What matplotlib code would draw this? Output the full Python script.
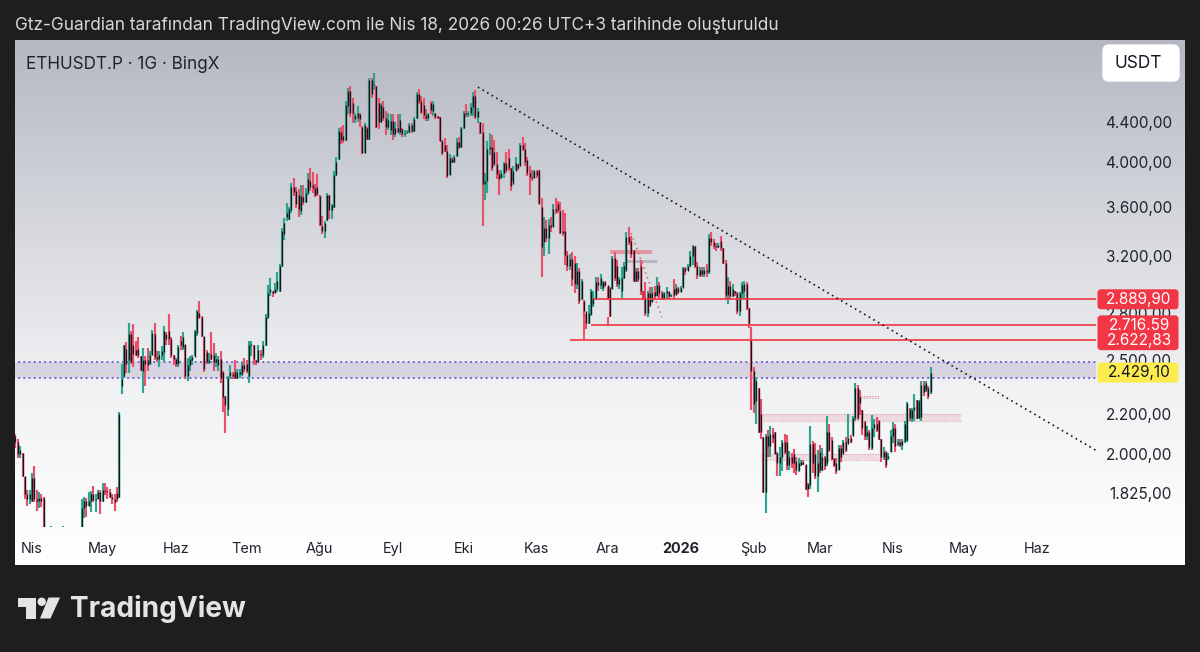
from __future__ import annotations

import matplotlib
matplotlib.use("Agg")
import matplotlib.dates as mdates
import matplotlib.pyplot as plt
import numpy as np
import pandas as pd
from matplotlib.patches import Circle, FancyBboxPatch, Polygon
from matplotlib.ticker import NullLocator

plt.rcParams["font.family"] = ["Inter", "DejaVu Sans"]

# daily candles, one list per month: open, high, low, close
mar25 = [
    (2090, 2100, 2030, 2060), (2060, 2075, 1985, 2000), (2000, 2040, 1985, 2020), (2005, 2005, 1895, 1900),
    (1900, 1895, 1800, 1820), (1820, 1840, 1770, 1800), (1800, 1840, 1780, 1820),
]
apr25 = [
    (1790, 1915, 1785, 1890), (1890, 1945, 1785, 1800), (1800, 1840, 1750, 1790), (1790, 1830, 1760, 1805),
    (1805, 1820, 1765, 1790), (1805, 1810, 1540, 1580), (1580, 1640, 1420, 1550), (1550, 1620, 1450, 1475),
    (1480, 1690, 1390, 1665), (1665, 1670, 1470, 1520), (1520, 1600, 1505, 1565), (1565, 1660, 1550, 1640),
    (1640, 1660, 1590, 1600), (1600, 1690, 1570, 1620), (1620, 1670, 1580, 1590), (1590, 1620, 1540, 1580),
    (1580, 1610, 1570, 1590), (1590, 1600, 1570, 1590), (1590, 1600, 1570, 1580), (1580, 1660, 1540, 1610),
    (1610, 1670, 1560, 1580), (1580, 1800, 1570, 1760), (1760, 1810, 1720, 1790), (1790, 1805, 1725, 1770),
    (1770, 1830, 1770, 1790), (1790, 1835, 1745, 1820), (1820, 1855, 1785, 1795), (1795, 1820, 1745, 1800),
    (1800, 1840, 1800, 1830), (1830, 1840, 1735, 1790),
]
may25 = [
    (1790, 1870, 1785, 1840), (1840, 1870, 1815, 1835), (1835, 1850, 1800, 1830), (1830, 1845, 1805, 1810),
    (1810, 1820, 1780, 1800), (1800, 1820, 1750, 1785), (1825, 1850, 1785, 1800), (1810, 2210, 1805, 2200),
    (2350, 2480, 2310, 2390), (2410, 2595, 2400, 2590), (2570, 2610, 2425, 2480), (2500, 2735, 2425, 2660),
    (2660, 2680, 2480, 2490), (2590, 2725, 2460, 2540), (2560, 2620, 2525, 2535), (2570, 2640, 2515, 2530),
    (2525, 2525, 2440, 2445), (2440, 2575, 2315, 2500), (2500, 2525, 2350, 2480), (2500, 2575, 2440, 2470),
    (2480, 2555, 2480, 2530), (2530, 2685, 2535, 2670), (2660, 2730, 2500, 2520), (2520, 2555, 2490, 2510),
    (2510, 2555, 2460, 2530), (2530, 2585, 2500, 2555), (2550, 2710, 2490, 2680), (2660, 2675, 2595, 2630),
    (2680, 2790, 2595, 2630), (2630, 2640, 2515, 2530), (2530, 2535, 2470, 2510),
]
jun25 = [
    (2510, 2515, 2460, 2480), (2480, 2595, 2460, 2580), (2620, 2650, 2565, 2590), (2580, 2675, 2565, 2640),
    (2600, 2595, 2390, 2410), (2410, 2515, 2380, 2470), (2470, 2525, 2440, 2510), (2500, 2535, 2470, 2520),
    (2520, 2685, 2525, 2680), (2670, 2820, 2650, 2810), (2800, 2880, 2755, 2770), (2770, 2780, 2640, 2650),
    (2650, 2640, 2430, 2450), (2550, 2565, 2480, 2490), (2490, 2545, 2480, 2500), (2540, 2675, 2500, 2510),
    (2530, 2605, 2440, 2490), (2490, 2545, 2460, 2510), (2470, 2525, 2440, 2510), (2510, 2555, 2370, 2400),
    (2430, 2440, 2210, 2290), (2300, 2300, 2105, 2250), (2230, 2410, 2190, 2400), (2410, 2470, 2390, 2430),
    (2420, 2430, 2390, 2410), (2430, 2505, 2390, 2400), (2400, 2450, 2390, 2430), (2420, 2450, 2400, 2430),
    (2420, 2490, 2410, 2470), (2470, 2515, 2430, 2450),
]
jul25 = [
    (2480, 2500, 2425, 2440), (2410, 2620, 2370, 2590), (2590, 2620, 2525, 2600), (2590, 2595, 2470, 2510),
    (2500, 2505, 2470, 2490), (2490, 2595, 2490, 2560), (2540, 2565, 2505, 2530), (2530, 2620, 2515, 2590),
    (2590, 2790, 2585, 2770), (2770, 2990, 2760, 2930), (2940, 3040, 2910, 2960), (2950, 2950, 2905, 2930),
    (2935, 3005, 2935, 2960), (2960, 3085, 2940, 3020), (2950, 3145, 2940, 3130), (3130, 3420, 3120, 3400),
    (3370, 3505, 3330, 3460), (3510, 3630, 3480, 3550), (3500, 3600, 3490, 3580), (3570, 3810, 3545, 3770),
    (3770, 3850, 3690, 3730), (3740, 3770, 3590, 3620), (3700, 3750, 3510, 3580), (3560, 3790, 3530, 3690),
    (3680, 3790, 3610, 3640), (3640, 3760, 3630, 3720), (3720, 3900, 3700, 3840), (3830, 3950, 3735, 3770),
    (3790, 3910, 3715, 3760), (3760, 3800, 3680, 3700), (3770, 3890, 3690, 3710),
]
aug25 = [
    (3690, 3700, 3440, 3450), (3440, 3520, 3370, 3400), (3400, 3480, 3340, 3460), (3490, 3720, 3480, 3700),
    (3700, 3700, 3500, 3570), (3570, 3620, 3500, 3610), (3600, 3920, 3590, 3880), (3880, 4050, 3870, 4000),
    (4030, 4335, 4020, 4310), (4300, 4350, 4180, 4220), (4260, 4370, 4190, 4220), (4220, 4620, 4210, 4580),
    (4570, 4770, 4480, 4740), (4740, 4790, 4450, 4500), (4600, 4660, 4390, 4490), (4430, 4500, 4390, 4470),
    (4440, 4570, 4400, 4500), (4480, 4490, 4350, 4430), (4350, 4360, 4080, 4090), (4090, 4385, 4085, 4370),
    (4340, 4350, 4220, 4230), (4230, 4880, 4220, 4860), (4860, 4880, 4660, 4700), (4800, 4945, 4750, 4820),
    (4790, 4790, 4335, 4350), (4600, 4660, 4325, 4400), (4400, 4605, 4385, 4580), (4560, 4620, 4415, 4440),
    (4440, 4520, 4270, 4350), (4350, 4500, 4320, 4420), (4320, 4480, 4270, 4410),
]
sep25 = [
    (4410, 4480, 4220, 4280), (4280, 4400, 4250, 4340), (4340, 4480, 4285, 4300), (4300, 4480, 4270, 4420),
    (4330, 4335, 4250, 4280), (4280, 4320, 4250, 4290), (4290, 4320, 4285, 4300), (4300, 4385, 4285, 4370),
    (4370, 4385, 4285, 4310), (4310, 4450, 4300, 4430), (4440, 4730, 4430, 4700), (4700, 4760, 4590, 4620),
    (4620, 4680, 4480, 4510), (4580, 4660, 4430, 4470), (4470, 4535, 4415, 4440), (4440, 4500, 4415, 4480),
    (4600, 4630, 4480, 4530), (4520, 4625, 4465, 4590), (4490, 4500, 4430, 4450), (4460, 4465, 4430, 4440),
    (4450, 4450, 4205, 4210), (4210, 4220, 4065, 4090), (4170, 4235, 4095, 4110), (4110, 4170, 3855, 3870),
    (3880, 4080, 3880, 4040), (4030, 4050, 3990, 4000), (4000, 4065, 3990, 4050), (4060, 4235, 4050, 4200),
    (4200, 4250, 4125, 4150), (4150, 4350, 4140, 4340),
]
oct25 = [
    (4340, 4520, 4330, 4500), (4500, 4590, 4450, 4480), (4480, 4520, 4450, 4500), (4500, 4605, 4465, 4560),
    (4560, 4725, 4465, 4680), (4680, 4750, 4430, 4450), (4450, 4550, 4385, 4520), (4400, 4400, 4275, 4290),
    (4300, 4385, 3440, 3800), (3800, 3900, 3660, 3830), (3830, 4205, 3720, 4130), (4130, 4285, 4065, 4150),
    (4150, 4270, 3915, 3950), (4100, 4220, 3960, 3980), (3980, 4095, 3840, 3890), (3890, 3930, 3705, 3840),
    (3850, 3930, 3855, 3900), (3900, 4005, 3855, 3990), (3990, 4095, 3900, 3930), (4040, 4125, 3915, 3950),
    (3950, 3950, 3735, 3780), (3800, 3960, 3825, 3920), (3920, 4050, 3930, 3990), (3980, 3985, 3930, 3950),
    (3960, 4190, 3975, 4170), (4170, 4250, 4110, 4130), (4130, 4190, 3960, 4000), (4020, 4050, 3870, 3900),
    (3900, 3960, 3705, 3860), (3860, 3930, 3825, 3850), (3850, 3930, 3855, 3920),
]
nov25 = [
    (3920, 3930, 3855, 3880), (3930, 3930, 3620, 3620), (3600, 3675, 3050, 3270), (3310, 3510, 3205, 3420),
    (3420, 3485, 3310, 3340), (3340, 3500, 3220, 3450), (3450, 3510, 3390, 3430), (3430, 3625, 3435, 3580),
    (3580, 3675, 3540, 3560), (3620, 3650, 3550, 3570), (3560, 3640, 3375, 3380), (3400, 3570, 3360, 3380),
    (3400, 3545, 3135, 3210), (3210, 3240, 3090, 3130), (3130, 3215, 3100, 3180), (3180, 3230, 2985, 3030),
    (3150, 3200, 2935, 3000), (3000, 3150, 2960, 3090), (3090, 3110, 2860, 2880), (2890, 3035, 2885, 3020),
    (2880, 2885, 2780, 2810), (2810, 2790, 2695, 2730), (2730, 2850, 2725, 2800), (2790, 2960, 2780, 2950),
    (2860, 2950, 2840, 2900), (2900, 3050, 2885, 3010), (3010, 3050, 2950, 2990), (2990, 3070, 2960, 3040),
    (2970, 3020, 2950, 3010), (3010, 3020, 2975, 2990),
]
dec25 = [
    (2990, 2975, 2885, 2900), (2965, 2975, 2770, 2775), (2960, 3205, 2960, 3190), (3190, 3230, 3020, 3040),
    (3130, 3170, 2975, 3000), (3000, 3050, 2960, 3030), (2950, 3120, 2900, 3040), (3040, 3160, 3035, 3130),
    (3100, 3390, 3085, 3350), (3350, 3430, 3290, 3310), (3320, 3360, 3190, 3220), (3250, 3250, 3010, 3020),
    (3020, 3110, 3010, 3090), (3090, 3110, 3010, 3030), (3130, 3170, 2920, 2950), (2950, 2950, 2885, 2900),
    (2900, 3010, 2780, 2800), (2800, 2950, 2770, 2930), (2930, 2975, 2840, 2850), (2870, 2975, 2870, 2940),
    (2940, 2985, 2885, 2910), (2910, 3050, 2915, 2990), (2990, 3010, 2895, 2930), (2930, 2950, 2885, 2900),
    (2900, 2940, 2885, 2930), (2930, 2975, 2895, 2950), (2950, 2940, 2895, 2910), (2910, 2925, 2905, 2920),
    (2960, 3035, 2895, 2920), (2920, 3000, 2925, 2970), (2970, 2975, 2925, 2940),
]
jan26 = [
    (2940, 2985, 2940, 2970), (2970, 3120, 2975, 3110), (3110, 3120, 3060, 3090), (3090, 3145, 3100, 3130),
    (3130, 3240, 3120, 3200), (3200, 3290, 3135, 3280), (3280, 3280, 3110, 3130), (3130, 3160, 3035, 3060),
    (3060, 3120, 3050, 3100), (3100, 3120, 3050, 3070), (3070, 3120, 3050, 3100), (3100, 3145, 3050, 3080),
    (3080, 3375, 3070, 3340), (3340, 3390, 3280, 3310), (3310, 3335, 3255, 3280), (3280, 3305, 3240, 3270),
    (3270, 3305, 3265, 3290), (3320, 3360, 3240, 3260), (3260, 3265, 3145, 3150), (3150, 3170, 2890, 2920),
    (2920, 3050, 2860, 2980), (2980, 3020, 2890, 2910), (2910, 3000, 2905, 2960), (2950, 2950, 2915, 2930),
    (2930, 2940, 2790, 2810), (2810, 2940, 2780, 2930), (2930, 3010, 2890, 2990), (2950, 3020, 2890, 3000),
    (3000, 3010, 2820, 2830), (2830, 2830, 2700, 2730), (2623, 2705, 2220, 2440),
]
feb26 = [
    (2440, 2460, 2205, 2255), (2270, 2400, 2150, 2380), (2340, 2340, 2105, 2110), (2200, 2280, 2075, 2110),
    (2085, 2085, 1825, 1830), (1830, 2100, 1740, 2090), (2090, 2120, 1990, 2040), (2040, 2140, 1990, 2100),
    (2100, 2130, 2055, 2080), (2110, 2110, 2000, 2000), (2005, 2010, 1900, 1960), (1960, 2035, 1900, 1990),
    (1990, 2070, 1925, 2060), (2060, 2100, 2000, 2010), (2060, 2095, 1930, 1950), (1950, 2015, 1930, 1990),
    (1990, 2005, 1935, 1960), (2000, 2025, 1915, 1960), (1970, 1990, 1905, 1930), (1930, 1985, 1920, 1960),
    (1950, 1975, 1945, 1965), (1965, 1975, 1950, 1955), (1955, 1950, 1840, 1845), (1865, 1870, 1810, 1845),
    (1860, 2140, 1845, 2050), (2050, 2065, 1915, 1960), (2000, 2055, 1885, 1900), (1900, 2020, 1830, 1960),
]
mar26 = [
    (2010, 2045, 1915, 1930), (1930, 2030, 1925, 1990), (1990, 1995, 1930, 1945), (1960, 2190, 1945, 2110),
    (2110, 2150, 2010, 2020), (2070, 2085, 1975, 1980), (1980, 1985, 1940, 1950), (1960, 1985, 1910, 1925),
    (1930, 2045, 1930, 2030), (2030, 2045, 1965, 1990), (2000, 2070, 2005, 2060), (2060, 2085, 2010, 2020),
    (2050, 2200, 2055, 2080), (2080, 2095, 2055, 2060), (2090, 2190, 2095, 2180), (2180, 2370, 2165, 2340),
    (2340, 2360, 2170, 2180), (2290, 2330, 2195, 2260), (2220, 2225, 2095, 2130), (2160, 2165, 2070, 2090),
    (2090, 2140, 2070, 2110), (2110, 2120, 2020, 2035), (2030, 2195, 2020, 2130), (2130, 2175, 2085, 2150),
    (2150, 2185, 2110, 2120), (2165, 2170, 2070, 2075), (2075, 2075, 1965, 1990), (1990, 2035, 1975, 2010),
    (2010, 2015, 1935, 1950), (1985, 2005, 1975, 1995), (2010, 2120, 2010, 2090),
]
apr26 = [
    (2090, 2160, 2055, 2130), (2130, 2150, 2010, 2040), (2050, 2075, 2040, 2060), (2060, 2075, 2035, 2045),
    (2045, 2075, 2020, 2065), (2065, 2165, 2055, 2150), (2070, 2265, 2060, 2260), (2230, 2235, 2165, 2180),
    (2180, 2235, 2160, 2220), (2220, 2310, 2165, 2240), (2275, 2275, 2175, 2180), (2180, 2275, 2175, 2270),
    (2185, 2380, 2165, 2360), (2360, 2380, 2300, 2320), (2330, 2380, 2320, 2370), (2340, 2350, 2280, 2300),
    (2320, 2463, 2310, 2429),
]
first_day = "2025-03-25"

month_ticks = ["2025-04-01", "2025-05-01", "2025-06-01", "2025-07-01", "2025-08-01", "2025-09-01", "2025-10-01",
               "2025-11-01", "2025-12-01", "2026-01-01", "2026-02-01", "2026-03-01", "2026-04-01", "2026-05-01",
               "2026-06-01"]
month_labels = ["Nis", "May", "Haz", "Tem", "Ağu", "Eyl", "Eki", "Kas", "Ara", "2026", "Şub", "Mar", "Nis", "May",
                "Haz"]
price_ticks = [1825, 2000, 2200, 2500, 2800, 3200, 3600, 4000, 4400]
price_labels = ["1.825,00", "2.000,00", "2.200,00", "2.500,00", "2.800,00", "3.200,00", "3.600,00", "4.000,00",
                "4.400,00"]

# drawings on the chart
level_prices = [2889.90, 2716.59, 2622.83]
level_texts = ["2.889,90", "2.716.59", "2.622,83"]
level_starts = ["2025-11-25", "2025-11-24", "2025-11-15"]
stub_dates = ["2025-12-16", "2025-12-01", "2025-11-21"]
stub_tops = [2940, 2770, 2790]
drawing_end = "2026-06-26"
zone_start = "2025-03-24"
zone_low, zone_high = 2395, 2492
last_price, last_text = 2429.10, "2.429,10"
trend_dates = ["2025-10-07", "2026-06-26"]
trend_prices = [4780, 2020]
fib_dates = ["2025-12-11", "2025-12-24"]
fib_prices = [3380, 2770]
pink_starts = ["2026-02-05", "2026-02-04", "2026-03-17"]
pink_ends = ["2026-04-30", "2026-03-26", "2026-03-26"]
pink_lows = [2165, 1975, 2285]
pink_highs = [2200, 2000, 2300]
red_span = ["2025-12-02", "2025-12-20"]
red_prices = [3215, 3250]
grey_span = ["2025-12-09", "2025-12-22"]
grey_prices = [3150, 3175]

UP = "#2fa58f"
DOWN = "#e8506c"
LEVEL = "#f23645"
INK = "#20232c"
PX = 1 / 100 * 72  # points per pixel


def px_rect(left: float, top: float, right: float, bottom: float) -> list[float]:
    return [left / 1200, 1 - bottom / 652, (right - left) / 1200, (bottom - top) / 652]


def days(values: list[str]):
    return mdates.date2num(pd.to_datetime(values))


fig = plt.figure(figsize=(12, 6.52), dpi=100, facecolor="#1e1e1e")

bg = fig.add_axes(px_rect(15, 40, 1185, 565), zorder=0)
bg.imshow(np.linspace(0, 1, 256).reshape(-1, 1), aspect="auto", cmap=matplotlib.colors.LinearSegmentedColormap.from_list(
    "pane", ["#b5b8c2", "#d4d6dc", "#f1f2f3", "#ffffff"]))
bg.axis("off")

ax = fig.add_axes(px_rect(15, 40, 1185, 527), zorder=1)
ax.patch.set_alpha(0)
for side in ax.spines.values():
    side.set_visible(False)

candles = np.array(mar25 + apr25 + may25 + jun25 + jul25 + aug25 + sep25 + oct25 + nov25 + dec25 + jan26 + feb26
                   + mar26 + apr26, dtype=float)
dates = mdates.date2num(pd.date_range(first_day, periods=len(candles), freq="D"))
opens, highs, lows, closes = candles.T
colors = [UP if c >= o else DOWN for o, c in zip(opens, closes)]

# zone behind the candles
start = days([zone_start])[0]
end = days([drawing_end])[0]
ax.fill_between([start, end], zone_low, zone_high, color="#8f7fc4", alpha=0.24, lw=0, zorder=1)
ax.hlines([zone_low, zone_high], start, end, colors="#5a3fc0", linestyles=(0, (1.2, 2.2)), lw=1.1, zorder=1.5)
ax.hlines(last_price, start, end, colors="#e9d96a", linestyles=(0, (1, 2)), lw=0.8, zorder=1.5)

for s, e, lo, hi in zip(days(pink_starts), days(pink_ends), pink_lows, pink_highs):
    ax.fill_between([s, e], lo, hi, color="#e8a0ac", alpha=0.3, lw=0, zorder=1.6)
    ax.hlines([lo, hi], s, e, colors="#dca0aa", linestyles=(0, (1, 1.5)), lw=0.8, zorder=1.6)
ax.fill_between(days(red_span), red_prices[0], red_prices[1], color="#e8808e", alpha=0.75, lw=0, zorder=1.6)
ax.fill_between(days(grey_span), grey_prices[0], grey_prices[1], color="#9a9ea8", alpha=0.6, lw=0, zorder=1.6)

ax.vlines(dates, lows, highs, colors=colors, lw=1.55, zorder=3)
ax.vlines(dates, np.minimum(opens, closes), np.maximum(opens, closes), colors="#14151a", lw=0.95, zorder=3.2)

# horizontal levels and their anchors
for price, begin, stub, top in zip(level_prices, days(level_starts), days(stub_dates), stub_tops):
    ax.hlines(price, begin, end, colors=LEVEL, lw=1.2, zorder=4)
    ax.vlines(stub, price, top, colors=LEVEL, lw=1.2, zorder=4)

ax.plot(days(trend_dates), trend_prices, color="#15161a", lw=1.2, ls=(0, (1, 2.2)), zorder=4)
ax.plot(days(fib_dates), fib_prices, color=DOWN, lw=1.1, ls=(0, (1, 2.4)), zorder=4)

ax.set_yscale("log")
ax.set_xlim(days(["2025-04-01"])[0] - 17 / 2.359, days(["2025-04-01"])[0] + 1153 / 2.359)
ax.set_ylim(1684, 5345)
ax.yaxis.tick_right()
ax.yaxis.set_minor_locator(NullLocator())
ax.set_yticks(price_ticks)
ax.set_yticklabels(price_labels, ha="right", fontsize=11, color=INK)
ax.tick_params(axis="y", length=0, pad=-9.5)
ax.set_xticks(days(month_ticks))
ax.set_xticklabels(month_labels, fontsize=10.4, color=INK)
ax.tick_params(axis="x", length=0, pad=10.5)
for tick in ax.get_xticklabels():
    if tick.get_text() == "2026":
        tick.set_fontweight("bold")

# everything below is placed in image pixels
over = fig.add_axes([0, 0, 1, 1], zorder=2)
over.set_xlim(0, 1200)
over.set_ylim(652, 0)
over.axis("off")
over.patch.set_alpha(0)

fig.canvas.draw()


def price_y(price: float) -> float:
    return 652 - ax.transData.transform((dates[0], price))[1]


def price_tag(price: float, text: str, face: str, color: str) -> None:
    y = price_y(price)
    over.add_patch(FancyBboxPatch((1099, y - 8.5), 78, 17, boxstyle="round,pad=0,rounding_size=2", fc=face, ec=face,
                                  lw=3 * PX))
    over.text(1139, y, text, ha="center", va="center", fontsize=11, color=color)


for price, text in zip(level_prices, level_texts):
    price_tag(price, text, LEVEL, "white")
price_tag(last_price, last_text, "#fdeb4f", "#131722")

over.text(15, 26, "Gtz-Guardian tarafından TradingView.com ile Nis 18, 2026 00:26 UTC+3 tarihinde oluşturuldu",
          color="#d8d8d8", fontsize=12.4, ha="left", va="center")
over.text(26, 64.5, "ETHUSDT.P · 1G · BingX", color=INK, fontsize=12.3, ha="left", va="center")

over.add_patch(FancyBboxPatch((1103, 45), 76, 36, boxstyle="round,pad=0,rounding_size=6", fc="white", ec="white", lw=1))
over.text(1138.5, 64, "USDT", color="#131722", fontsize=12.4, ha="center", va="center")

# logo
logo = "#e4e4e4"
over.add_patch(Polygon([(17.5, 597.5), (36, 597.5), (36, 618.5), (26, 618.5), (26, 607), (17.5, 607)], fc=logo, ec="none"))
over.add_patch(Circle((41.7, 601.8), 4.2, fc=logo, ec="none"))
over.add_patch(Polygon([(48.5, 597.5), (60, 597.5), (50.5, 618.5), (40, 618.5)], fc=logo, ec="none"))
over.text(70, 609, "TradingView", color=logo, fontsize=20.2, fontweight="bold", ha="left", va="center")

fig.savefig("out.png", dpi=100, facecolor=fig.get_facecolor())
